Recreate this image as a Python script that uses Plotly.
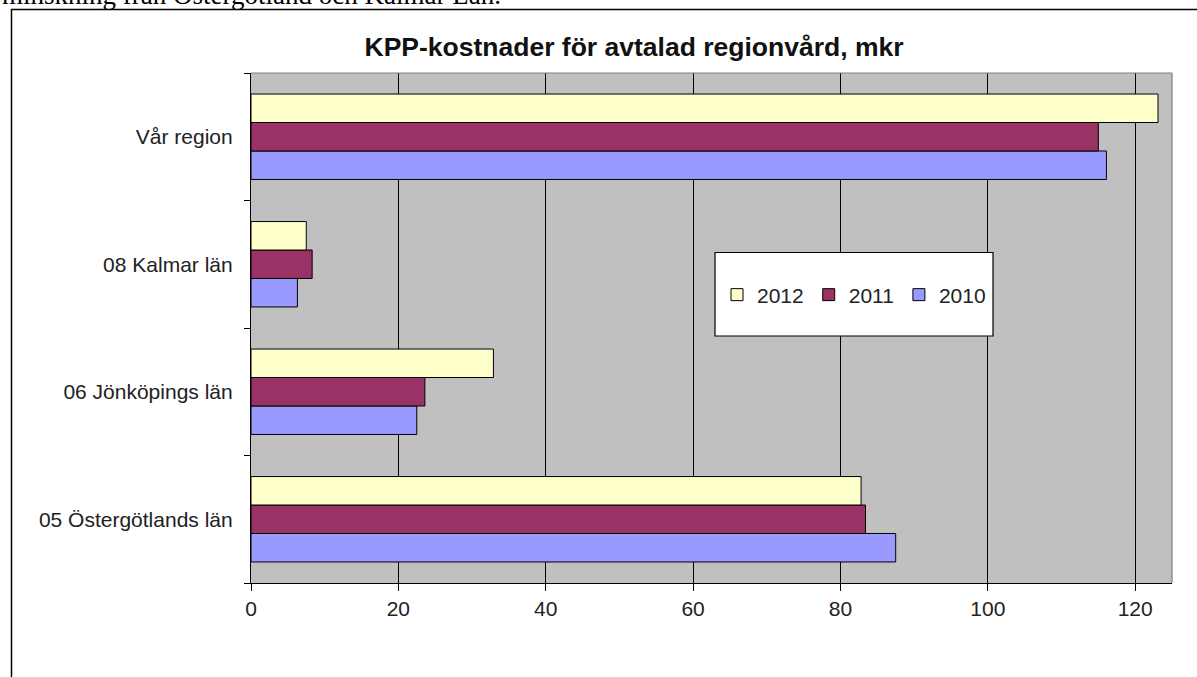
import plotly.graph_objects as go

categories = ["05 Östergötlands län", "06 Jönköpings län", "08 Kalmar län", "Vår region"]
years = ["2010", "2011", "2012"]
values_2010 = [87.5, 22.5, 6.3, 116.1]
values_2011 = [83.4, 23.6, 8.3, 115.0]
values_2012 = [82.8, 32.9, 7.5, 123.1]
colors = {"2010": "#9999FF", "2011": "#993366", "2012": "#FFFFCC"}
x_ticks = [0, 20, 40, 60, 80, 100, 120]
title_text = "KPP-kostnader för avtalad regionvård, mkr"
top_text = "minskning från Östergötland och Kalmar Län."

series = {"2010": values_2010, "2011": values_2011, "2012": values_2012}

W, H = 1197, 677
L, R, T, B = 251, 25, 73, 94
pw, ph = W - L - R, H - T - B

def px_x(p):
    return (p - L) / pw

def px_y(p):
    return (H - B - p) / ph

fig = go.Figure()
for yr in years:
    fig.add_trace(go.Bar(
        y=categories, x=series[yr], name=yr, orientation="h",
        marker=dict(color=colors[yr], line=dict(color="#000000", width=1)),
    ))

font_family = "Liberation Sans, Arial, sans-serif"

fig.update_layout(
    width=W, height=H,
    margin=dict(l=L, r=R, t=T, b=B, pad=0),
    paper_bgcolor="#FFFFFF",
    plot_bgcolor="#C0C0C0",
    barmode="group",
    bargap=0.33,
    bargroupgap=0,
    font=dict(family=font_family, size=21, color="#222222"),
    title=dict(
        text=title_text, x=634 / W, xref="container", xanchor="center",
        y=1 - 47 / H, yref="container", yanchor="middle",
        font=dict(family=font_family, size=26.5, color="#111111", weight=700),
    ),
    showlegend=True,
    legend=dict(
        orientation="h", traceorder="reversed",
        x=px_x(854), xanchor="center", y=px_y(295), yanchor="middle",
        bgcolor="rgba(0,0,0,0)", borderwidth=0,
        font=dict(family=font_family, size=21, color="#222222"),
        itemwidth=30,
    ),
    xaxis=dict(
        range=[0, 125], tickvals=x_ticks, ticktext=[str(v) for v in x_ticks],
        showgrid=True, gridcolor="#000000", gridwidth=1.2,
        zeroline=False, showline=True, linecolor="#000000", linewidth=1.2,
        ticks="outside", ticklen=7, tickcolor="#000000", tickwidth=1.2,
        tickfont=dict(size=21, color="#222222"),
        fixedrange=True,
    ),
    yaxis=dict(
        categoryorder="array", categoryarray=categories,
        showgrid=False, zeroline=False,
        showline=True, linecolor="#000000", linewidth=1.2,
        ticks="outside", ticklen=6, tickcolor="#000000", tickwidth=1.2,
        tickson="boundaries", ticklabelstandoff=13,
        tickfont=dict(size=21, color="#222222"),
        fixedrange=True,
    ),
    shapes=[
        # outer frame
        dict(type="rect", xref="paper", yref="paper",
             x0=px_x(11.5), x1=px_x(1210), y0=px_y(720), y1=px_y(9.5),
             line=dict(color="#000000", width=1.5), fillcolor="rgba(0,0,0,0)", layer="below"),
        # plot border top and right
        dict(type="line", xref="paper", yref="paper", x0=0, x1=1, y0=1, y1=1,
             line=dict(color="#808080", width=1.2), layer="above"),
        dict(type="line", xref="paper", yref="paper", x0=1, x1=1, y0=0, y1=1,
             line=dict(color="#808080", width=1.2), layer="above"),
        # legend box
        dict(type="rect", xref="paper", yref="paper",
             x0=px_x(715), x1=px_x(993), y0=px_y(336), y1=px_y(252.5),
             line=dict(color="#000000", width=1.2), fillcolor="#FFFFFF", layer="above"),
    ],
    annotations=[
        dict(text=top_text, xref="paper", yref="paper", x=px_x(0), xanchor="left",
             y=px_y(-5), yanchor="middle", showarrow=False,
             font=dict(family="Liberation Serif, Times New Roman, serif", size=27, color="#000000")),
    ],
)

fig.write_html("out.html", config={"displayModeBar": False},
               post_script="document.body.style.margin='0';")
